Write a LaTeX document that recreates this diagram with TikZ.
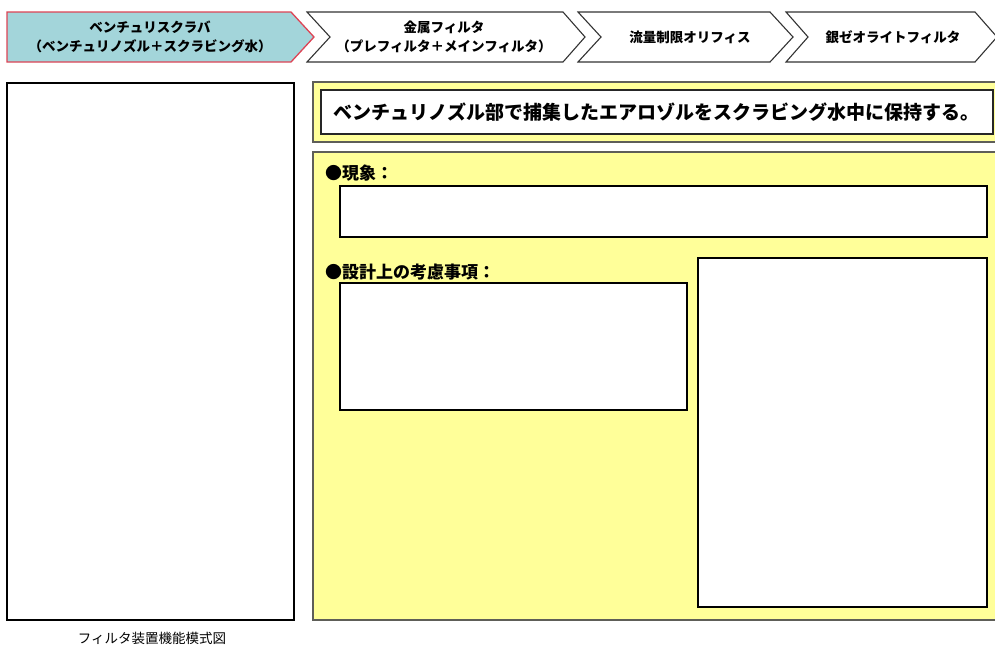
\documentclass[tikz,border=0pt]{standalone}
\usepackage{fontspec}
\setmainfont{Noto Sans CJK JP}
\usepackage{xcolor}
\usepackage{tikz}
\usetikzlibrary{positioning}
\definecolor{stageteal}{HTML}{A3D5DA}
\definecolor{stagered}{HTML}{DD4455}
\definecolor{noteyellow}{HTML}{FFFF99}
\definecolor{noteedge}{HTML}{5E5E58}

\tikzset{
  stagebox/.style={draw=black!80, line width=1.1pt, fill=white, line join=miter},
  stagetext/.style={font=\fontsize{13.5}{19}\selectfont\bfseries, align=center, inner sep=0pt},
  notebox/.style={draw=noteedge, line width=2pt, fill=noteyellow},
  whitebox/.style={draw=black, line width=2.4pt, fill=white},
  headtext/.style={font=\fontsize{17}{20}\selectfont\bfseries, anchor=west, inner sep=0pt},
}

\begin{document}
\begin{tikzpicture}[x=1pt, y=-1pt]
  \useasboundingbox (0,0) rectangle (995,646);

  % process stages along the top
  \draw[line width=1.3pt, draw=stagered, fill=stageteal]
    (7,12) -- (291,12) -- (314,37) -- (291,62) -- (7,62) -- cycle;
  \draw[stagebox] (307,12) -- (563,12) -- (585,37) -- (563,62) -- (307,62) -- (330,37) -- cycle;
  \draw[stagebox] (578,12) -- (770,12) -- (793,37) -- (770,62) -- (578,62) -- (601,37) -- cycle;
  \draw[stagebox] (786,12) -- (975,12) -- (997,37) -- (975,62) -- (786,62) -- (808,37) -- cycle;

  \node[stagetext] (scrubber) at (150,37) {ベンチュリスクラバ\\（ベンチュリノズル＋スクラビング水）};
  \node[stagetext] (metal)    at (444,37) {金属フィルタ\\（プレフィルタ＋メインフィルタ）};
  \node[stagetext] (orifice)  at (690,37) {流量制限オリフィス};
  \node[stagetext] (zeolite)  at (893,37) {銀ゼオライトフィルタ};

  % schematic panel on the left
  \draw[whitebox, line width=2.6pt] (7,83) rectangle (294,620);
  \node[font=\fontsize{13.5}{16}\selectfont, inner sep=0pt] (caption) at (152,638) {フィルタ装置機能模式図};

  % summary line
  \draw[notebox] (313,82) rectangle (1002,142);
  \draw[draw=black!85, line width=1.4pt, fill=white] (321,90) rectangle (993,134);
  \node[font=\fontsize{19}{22}\selectfont\bfseries, anchor=west, inner sep=0pt] (summary) at (333,112)
    {ベンチュリノズル部で捕集したエアロゾルをスクラビング水中に保持する。};

  % details
  \draw[notebox] (313,152) rectangle (1002,620);
  \node[headtext] (phenom) at (325,173) {●現象：};
  \draw[whitebox] (340,186) rectangle (987,237);
  \node[headtext] (design) at (325,272) {●設計上の考慮事項：};
  \draw[whitebox] (340,283) rectangle (687,410);
  \draw[whitebox] (698,258) rectangle (987,607);
\end{tikzpicture}
\end{document}
